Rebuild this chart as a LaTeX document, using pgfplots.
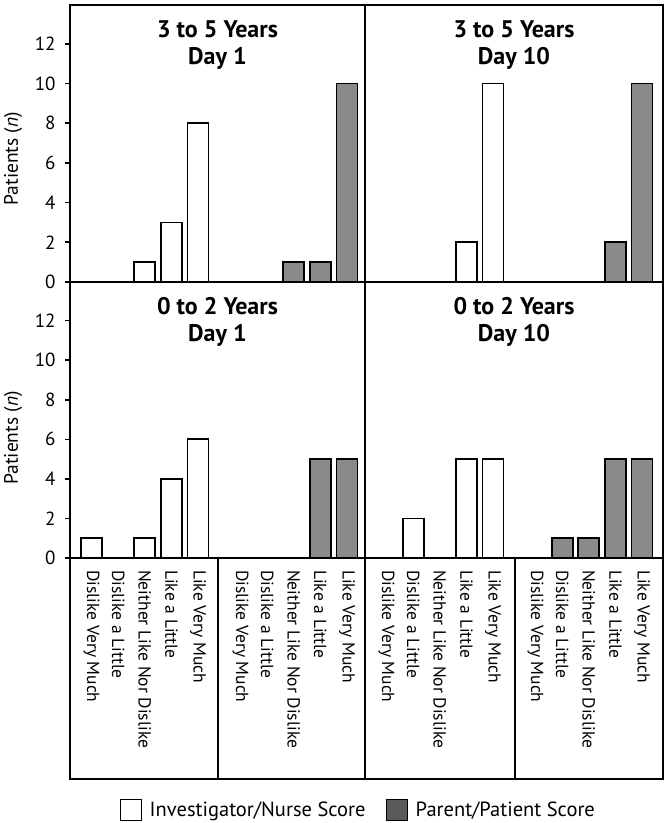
\documentclass[border=0pt]{standalone}
\usepackage{fontspec}
\setmainfont{PT Sans}
\usepackage{pgfplots}
\pgfplotsset{compat=1.18}
\definecolor{barg}{HTML}{8A8A8A}
\definecolor{legg}{HTML}{5A5A5A}
\pgfplotsset{
  common/.style={
    scale only axis,
    ymin=0, ymax=13.95,
    xmin=-0.81,
    axis line style={line width=2.4pt},
    ytick={0,2,...,12},
    tick align=outside,
    ytick pos=left,
    major tick length=5pt,
    ytick style={line width=1.6pt, black},
    xtick style={draw=none},
    clip=false,
    /pgf/number format/assume math mode=true,
    yticklabel style={font=\fontsize{19}{19}\selectfont, xshift=-6pt},
  },
  wbar/.style={ybar, bar width=0.79, bar shift=0pt, fill=white, draw=black, line width=1.8pt, forget plot},
  gbar/.style={ybar, bar width=0.79, bar shift=0pt, fill=barg, draw=black, line width=1.8pt, forget plot},
  noyl/.style={yticklabels={}, ytick={0}},
  xlabs/.style={
    xtick={0,1,2,3,4,5.6,6.6,7.6,8.6,9.6},
    xticklabels={Dislike Very Much,Dislike a Little,Neither Like Nor Dislike,Like a Little,Like Very Much,Dislike Very Much,Dislike a Little,Neither Like Nor Dislike,Like a Little,Like Very Much},
    xticklabel style={rotate=-90, anchor=west, inner sep=0pt, font=\fontsize{17.5}{17.5}\selectfont},
    xticklabel shift=7pt,
  },
  noxl/.style={xtick=\empty},
}
\newcommand{\ttl}[2]{%
  \node[anchor=base, font=\bfseries\fontsize{24}{24}\selectfont, yshift=-32pt] at (rel axis cs:0.5,1) {#1};
  \node[anchor=base, font=\bfseries\fontsize{24}{24}\selectfont, yshift=-59pt] at (rel axis cs:0.5,1) {#2};
}
\newcommand{\ylab}[1]{%
  \node[rotate=90, anchor=center, inner sep=0pt, font=\fontsize{19.5}{19.5}\selectfont] at (rel axis cs:-0.193,#1) {Patients (\textit{n})};
}
\begin{document}
\begin{tikzpicture}
% Top-left: 3 to 5 Years, Day 1
\begin{axis}[common, noxl, at={(70pt,-282pt)}, anchor=south west, width=295pt, height=277pt, xmax=10.28]
\addplot[wbar] coordinates {(2,1) (3,3) (4,8)};
\addplot[gbar] coordinates {(7.6,1) (8.6,1) (9.6,10)};
\ttl{3 to 5 Years}{Day 1}
\ylab{0.445}
\end{axis}
% Top-right: 3 to 5 Years, Day 10
\begin{axis}[common, noyl, noxl, at={(365pt,-282pt)}, anchor=south west, width=298pt, height=277pt, xmax=10.39]
\addplot[wbar] coordinates {(3,2) (4,10)};
\addplot[gbar] coordinates {(8.6,2) (9.6,10)};
\ttl{3 to 5 Years}{Day 10}
\end{axis}
% Bottom-left: 0 to 2 Years, Day 1
\begin{axis}[common, xlabs, at={(70pt,-558pt)}, anchor=south west, width=295pt, height=276pt, xmax=10.28,
  legend columns=2,
  legend style={at={(0.977,-0.913)}, anchor=center, draw=none, fill=none, inner sep=0pt,
    font=\fontsize{20.5}{20.5}\selectfont,
    /tikz/column 1/.style={column sep=6pt},
    /tikz/column 2/.style={column sep=18pt},
    /tikz/column 3/.style={column sep=6pt}},
  legend image code/.code={\draw[#1] (0pt,-10.5pt) rectangle (21pt,10.5pt);}]
\addplot[wbar] coordinates {(0,1) (2,1) (3,4) (4,6)};
\addplot[gbar] coordinates {(8.6,5) (9.6,5)};
\addlegendimage{fill=white, draw=black, line width=1.2pt}
\addlegendentry{Investigator/Nurse Score}
\addlegendimage{fill=legg, draw=black, line width=1.2pt}
\addlegendentry{Parent/Patient Score}
\ttl{0 to 2 Years}{Day 1}
\ylab{0.435}
\end{axis}
% Bottom-right: 0 to 2 Years, Day 10
\begin{axis}[common, noyl, xlabs, at={(365pt,-558pt)}, anchor=south west, width=298pt, height=276pt, xmax=10.39]
\addplot[wbar] coordinates {(1,2) (3,5) (4,5)};
\addplot[gbar] coordinates {(6.6,1) (7.6,1) (8.6,5) (9.6,5)};
\ttl{0 to 2 Years}{Day 10}
\end{axis}
% label box
\draw[line width=2pt] (70pt,-558pt) -- (70pt,-779pt) -- (663pt,-779pt) -- (663pt,-558pt);
\draw[line width=1.3pt] (218pt,-558pt) -- (218pt,-779pt);
\draw[line width=1.3pt] (365pt,-558pt) -- (365pt,-779pt);
\draw[line width=1.3pt] (515pt,-558pt) -- (515pt,-779pt);
\pgfresetboundingbox
\useasboundingbox (0pt,0pt) rectangle (666pt,-823pt);
\end{tikzpicture}
\end{document}
